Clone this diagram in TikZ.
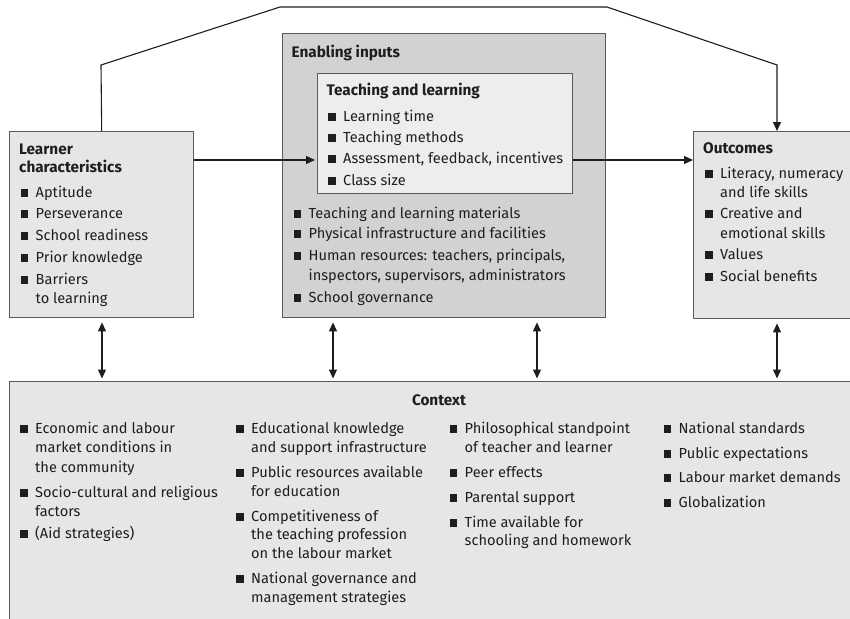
\documentclass[tikz,border=0pt]{standalone}
\usepackage{fontspec}
\setmainfont{Fira Sans}
\usetikzlibrary{arrows.meta}
\definecolor{boxfill}{HTML}{E6E6E6}
\definecolor{enabfill}{HTML}{D2D2D2}
\definecolor{tlfill}{HTML}{EDEDED}
\definecolor{edge}{HTML}{5A5A5A}
\definecolor{ink}{HTML}{1E1E1E}
\newcommand\bodysz{\fontsize{14.6}{19}\selectfont}
\newcommand\headsz{\fontsize{15.3}{17}\selectfont\bfseries}
\tikzset{
  panel/.style={draw=edge, line width=1.4pt, fill=boxfill, inner sep=0pt, anchor=north west},
  txt/.style={anchor=base west, inner sep=0pt, font=\bodysz, text=ink},
  hd/.style={anchor=base west, inner sep=0pt, font=\headsz, text=ink},
  bul/.style={fill=ink, minimum width=7.5pt, minimum height=7.5pt, inner sep=0pt, anchor=south west},
  link/.style={draw=ink, line width=1.1pt},
  tip/.style={-{Triangle[length=9pt,width=8pt]}},
  dtip/.style={{Triangle[length=9pt,width=8pt]}-{Triangle[length=9pt,width=8pt]}},
}
\newcommand\bitem[4]{\node[bul] (#3q) at (#1,#2) {}; \node[txt] (#3) at ({#1+15},#2) {#4};}
\newcommand\contline[4]{\node[txt] (#3) at ({#1+15},#2) {#4};}
\begin{document}
\begin{tikzpicture}[x=1pt,y=-1pt]
\clip (0,0) rectangle (850,618);
\fill[white] (0,0) rectangle (850,618);
% boxes
\node[panel, minimum width=184pt, minimum height=186pt] (learner) at (9,131) {};
\node[panel, fill=enabfill, minimum width=323pt, minimum height=284pt] (enab) at (282,33) {};
\node[panel, fill=tlfill, minimum width=255pt, minimum height=120pt] (tl) at (317,73) {};
\node[panel, minimum width=200pt, minimum height=187pt] (outc) at (693,131) {};
\node[panel, minimum width=900pt, minimum height=300pt] (ctx) at (9,381) {};
% learner
\node[hd] (lh1) at (19,154) {Learner};
\node[hd] (lh2) at (19,172) {characteristics};
\bitem{20.5}{197}{l1}{Aptitude}
\bitem{20.5}{218}{l2}{Perseverance}
\bitem{20.5}{240}{l3}{School readiness}
\bitem{20.5}{262}{l4}{Prior knowledge}
\bitem{20.5}{284}{l5}{Barriers}
\contline{20.5}{303}{l5x}{to learning}
% enabling
\node[hd] (eh) at (291.5,57) {Enabling inputs};
\node[hd] (th) at (326.5,95) {Teaching and learning};
\bitem{328}{121}{t1}{Learning time}
\bitem{328}{142}{t2}{Teaching methods}
\bitem{328}{163}{t3}{Assessment, feedback, incentives}
\bitem{328}{185}{t4}{Class size}
\bitem{293.5}{218}{e1}{Teaching and learning materials}
\bitem{293.5}{238}{e2}{Physical infrastructure and facilities}
\bitem{293.5}{260}{e3}{Human resources: teachers, principals,}
\contline{293.5}{280}{e3x}{inspectors, supervisors, administrators}
\bitem{293.5}{302}{e4}{School governance}
% outcomes
\node[hd] (oh) at (703,153) {Outcomes};
\bitem{705}{178}{o1}{Literacy, numeracy}
\contline{705}{197}{o1x}{and life skills}
\bitem{705}{218}{o2}{Creative and}
\contline{705}{238}{o2x}{emotional skills}
\bitem{705}{259}{o3}{Values}
\bitem{705}{281}{o4}{Social benefits}
% context
\node[hd, anchor=base] (ch) at (439,405) {Context};
\bitem{20}{433}{a1}{Economic and labour}
\contline{20}{452}{a1x}{market conditions in}
\contline{20}{472}{a1y}{the community}
\bitem{20}{497}{a2}{Socio-cultural and religious}
\contline{20}{516}{a2x}{factors}
\bitem{20}{538}{a3}{(Aid strategies)}
\bitem{236}{433}{b1}{Educational knowledge}
\contline{236}{452}{b1x}{and support infrastructure}
\bitem{236}{477}{b2}{Public resources available}
\contline{236}{496}{b2x}{for education}
\bitem{236}{521}{b3}{Competitiveness of}
\contline{236}{539}{b3x}{the teaching profession}
\contline{236}{558}{b3y}{on the labour market}
\bitem{236}{583}{b4}{National governance and}
\contline{236}{602}{b4x}{management strategies}
\bitem{449.5}{433}{c1}{Philosophical standpoint}
\contline{449.5}{452}{c1x}{of teacher and learner}
\bitem{449.5}{477}{c2}{Peer effects}
\bitem{449.5}{502}{c3}{Parental support}
\bitem{449.5}{527}{c4}{Time available for}
\contline{449.5}{545}{c4x}{schooling and homework}
\bitem{663.5}{433}{d1}{National standards}
\bitem{663.5}{458}{d2}{Public expectations}
\bitem{663.5}{482}{d3}{Labour market demands}
\bitem{663.5}{507}{d4}{Globalization}
% connectors
\coordinate (k1) at (101,65);
\coordinate (k2) at (280,7);
\coordinate (k3) at (607,7);
\coordinate (k4) at (777,65);
\draw[link,tip] (learner.north) -- (k1) -- (k2) -- (k3) -- (k4) -- (k4 |- outc.north);
\coordinate (h) at (0,160);
\draw[link,tip,shorten >=2pt] (learner.east |- h) -- (tl.west |- h);
\draw[link,tip] (tl.east |- h) -- (outc.west |- h);
\coordinate (v1) at (102,0);
\coordinate (v2) at (333,0);
\coordinate (v3) at (537,0);
\coordinate (v4) at (777,0);
\draw[link,dtip,shorten <=4pt,shorten >=2.5pt] (learner.south -| v1) -- (ctx.north -| v1);
\draw[link,dtip,shorten <=4pt,shorten >=2.5pt] (enab.south -| v2) -- (ctx.north -| v2);
\draw[link,dtip,shorten <=4pt,shorten >=2.5pt] (enab.south -| v3) -- (ctx.north -| v3);
\draw[link,dtip,shorten <=4pt,shorten >=2.5pt] (outc.south -| v4) -- (ctx.north -| v4);
\end{tikzpicture}
\end{document}
